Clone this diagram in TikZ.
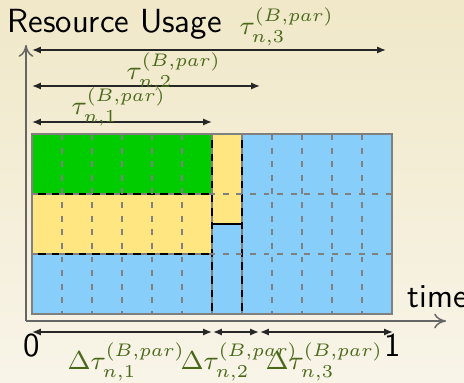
\RequirePackage{fix-cm}
\documentclass[tikz,border=0pt]{standalone}
\usetikzlibrary{arrows.meta}
\definecolor{bgtop}{RGB}{240,232,200}
\definecolor{bgbot}{RGB}{248,244,232}
\definecolor{blkgreen}{RGB}{0,204,0}
\definecolor{blkyellow}{RGB}{255,230,128}
\definecolor{blkblue}{RGB}{135,206,250}
\definecolor{lblgreen}{RGB}{74,104,26}
\begin{document}
\begin{tikzpicture}[x=0.3378pt,y=-0.3378pt,
  blk/.style={draw=black,line width=0.4pt},
  gridln/.style={draw=gray,line width=0.45pt,dash pattern=on 2pt off 2.6pt},
  frameln/.style={draw=gray,line width=0.5pt},
  axisln/.style={draw=black!60,line width=0.5pt,-{To[length=4pt,width=5pt]}},
  dimln/.style={draw=black!85,line width=0.5pt,{Latex[length=3pt,width=2.4pt]}-{Latex[length=3pt,width=2.4pt]}},
  lbl/.style={text=lblgreen,inner sep=0pt,anchor=base west,font=\fontsize{8.8}{10.5}\selectfont},
  txt/.style={font=\fontsize{11.3}{13.5}\selectfont\sffamily,inner sep=0pt}]
\useasboundingbox (0,0) rectangle (464,383);
\fill[top color=bgtop,bottom color=bgbot] (0,0) rectangle (464,383);
% blocks
\filldraw[blk,fill=blkgreen] (32,134) rectangle (212,194);
\filldraw[blk,fill=blkyellow] (32,194) rectangle (212,254);
\filldraw[blk,fill=blkblue] (32,254) rectangle (212,314);
\filldraw[blk,fill=blkyellow] (212,134) rectangle (242,224);
\filldraw[blk,fill=blkblue] (212,224) rectangle (242,314);
\filldraw[blk,fill=blkblue] (242,134) rectangle (392,314);
% dashed grid
\foreach \x in {62,92,...,362} \draw[gridln] (\x,134) -- (\x,314);
\foreach \y in {194,254} \draw[gridln] (32,\y) -- (392,\y);
\draw[frameln] (32,134) rectangle (392,314);
% axes
\coordinate (O) at (26,321);
\coordinate (X) at (446,321);
\coordinate (Y) at (26,45);
\draw[axisln] (O) -- (X);
\draw[axisln] (O) -- (Y);
% top dimension arrows
\coordinate (t3a) at (32,50);  \coordinate (t3b) at (386,50);
\coordinate (t2a) at (32,86);  \coordinate (t2b) at (260,86);
\coordinate (t1a) at (32,122); \coordinate (t1b) at (212,122);
\draw[dimln] (t3a) -- (t3b);
\draw[dimln] (t2a) -- (t2b);
\draw[dimln] (t1a) -- (t1b);
% bottom dimension arrows
\coordinate (d1a) at (32,332);  \coordinate (d1b) at (212,332);
\coordinate (d2a) at (213,332); \coordinate (d2b) at (259,332);
\coordinate (d3a) at (260,332); \coordinate (d3b) at (393,332);
\draw[dimln] (d1a) -- (d1b);
\draw[dimln] (d2a) -- (d2b);
\draw[dimln] (d3a) -- (d3b);
% labels
\node[lbl] (lt3) at (239,35) {$\tau^{(B,par)}_{n,3}$};
\node[lbl] (lt2) at (126,80) {$\tau^{(B,par)}_{n,2}$};
\node[lbl] (lt1) at (71,115) {$\tau^{(B,par)}_{n,1}$};
\node[lbl] (ld1) at (67,370) {$\Delta\tau^{(B,par)}_{n,1}$};
\node[lbl] (ld2) at (180,370) {$\Delta\tau^{(B,par)}_{n,2}$};
\node[lbl] (ld3) at (265,370) {$\Delta\tau^{(B,par)}_{n,3}$};
\node[txt,anchor=base west] (ru) at (7,33) {Resource Usage};
\node[txt,anchor=base west] (tm) at (407,308) {time};
\node[txt,anchor=base] (z0) at (31.5,357) {0};
\node[txt,anchor=base] (z1) at (392.5,357) {1};
\end{tikzpicture}
\end{document}
